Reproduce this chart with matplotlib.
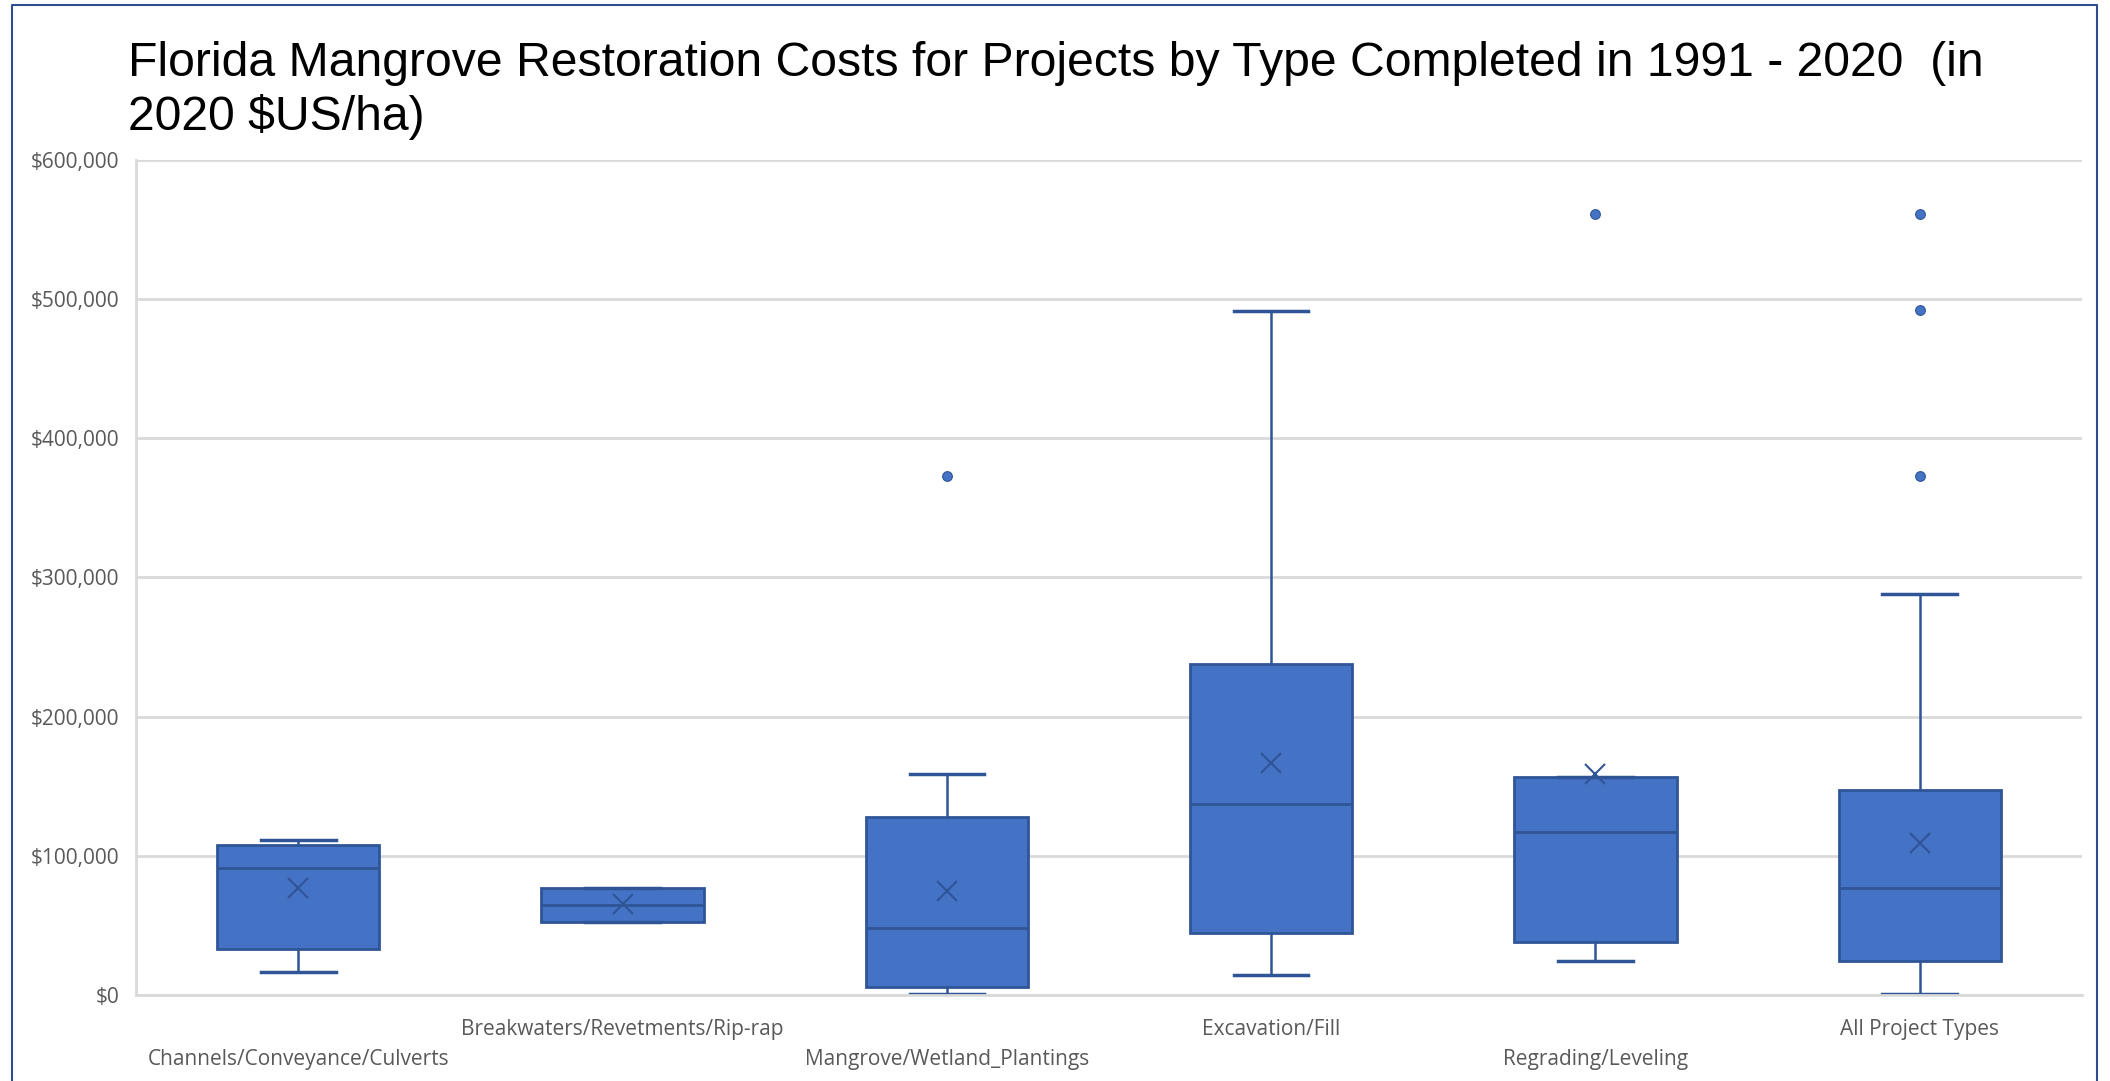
import matplotlib
matplotlib.use("Agg")
import matplotlib.pyplot as plt
from matplotlib.ticker import FuncFormatter

# values, 2020 $US/ha
categories = ["Channels/Conveyance/Culverts", "Breakwaters/Revetments/Rip-rap",
              "Mangrove/Wetland_Plantings", "Excavation/Fill",
              "Regrading/Leveling", "All Project Types"]
whis_low = [16800, 52300, 500, 14500, 24500, 800]
q1 = [33100, 52300, 5800, 44500, 37800, 24100]
median = [91200, 64800, 48400, 137400, 116800, 76700]
q3 = [108100, 76500, 127700, 238000, 156900, 147600]
whis_high = [111000, 76500, 158700, 491600, 156900, 288200]
mean = [76800, 65000, 74500, 166500, 158500, 109400]
outliers = [[], [], [373000], [], [561500], [561500, 492200, 372700]]

BOX = "#4472C4"
EDGE = "#2F5597"
GRID = "#D9D9D9"
TXT = "#595959"

stats = []
for i, name in enumerate(categories):
    stats.append({"label": name, "whislo": whis_low[i], "q1": q1[i], "med": median[i],
                  "q3": q3[i], "whishi": whis_high[i], "mean": mean[i],
                  "fliers": outliers[i]})

fig = plt.figure(figsize=(21.1, 10.81), dpi=100)
ax = fig.add_axes([0.0645, 0.0796, 0.9222, 0.7724])

positions = [i + 0.5 for i in range(len(categories))]
ax.bxp(stats, positions=positions, widths=0.5, patch_artist=True, showmeans=True,
       boxprops=dict(facecolor=BOX, edgecolor=EDGE, linewidth=2),
       medianprops=dict(color=EDGE, linewidth=2),
       whiskerprops=dict(color=EDGE, linewidth=1.8),
       capprops=dict(color=EDGE, linewidth=2.5),
       capwidths=0.23,
       meanprops=dict(marker="x", markeredgecolor=EDGE, markersize=14, markeredgewidth=1.5),
       flierprops=dict(marker="o", markerfacecolor=BOX, markeredgecolor=EDGE,
                       markersize=7, markeredgewidth=0.8))

ax.set_xlim(0, 6)
ax.set_ylim(0, 600000)
ax.set_yticks(range(0, 600001, 100000))
ax.yaxis.set_major_formatter(FuncFormatter(lambda v, p: f"${v:,.0f}"))
ax.grid(axis="y", color=GRID, linewidth=2)
ax.set_axisbelow(True)
for s in ["top", "right"]:
    ax.spines[s].set_visible(False)
for s in ["left", "bottom"]:
    ax.spines[s].set_color(GRID)
    ax.spines[s].set_linewidth(2)

ax.set_xticks(positions)
ax.set_xticklabels(categories)
ax.tick_params(axis="both", length=0, colors=TXT, labelsize=15)
ax.tick_params(axis="y", pad=12)
for lab in ax.get_xticklabels() + ax.get_yticklabels():
    lab.set_fontfamily("Open Sans")
# Excel-style staggered category labels
for i, tick in enumerate(ax.xaxis.get_major_ticks()):
    tick.set_pad(39 if i % 2 == 0 else 17)

fig.text(0.0607, 0.962, "Florida Mangrove Restoration Costs for Projects by Type Completed in 1991 - 2020  (in\n2020 $US/ha)",
         fontsize=34.7, family="Liberation Sans", color="black", va="top", ha="left",
         linespacing=1.21)

# chart area frame (no bottom edge visible in the original)
fig.add_artist(plt.Line2D([0.0057, 0.0057, 0.9938, 0.9938], [0.0, 0.9954, 0.9954, 0.0],
                          transform=fig.transFigure, color="#2E4C8F", linewidth=1.5))

fig.savefig("out.png", dpi=100)
